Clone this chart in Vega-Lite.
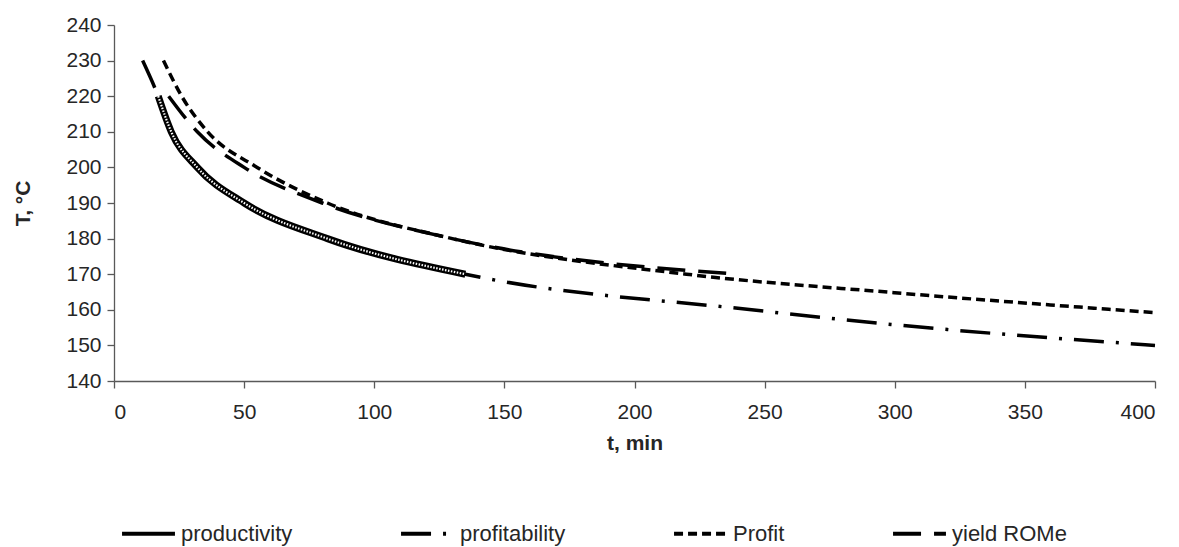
{
  "$schema": "https://vega.github.io/schema/vega-lite/v6.json",
  "width": 1041,
  "height": 356,
  "autosize": {"type": "none"},
  "padding": {"left": 114, "top": 25, "right": 24, "bottom": 166},
  "background": "white",
  "config": {
    "font": "Liberation Sans",
    "view": {"stroke": null},
    "axis": {"grid": false, "domainColor": "#595959", "tickColor": "#595959", "labelColor": "#262626", "titleColor": "#262626", "labelFontSize": 21, "titleFontSize": 21, "titleFontWeight": "bold", "tickSize": 7, "domainWidth": 1.3, "tickWidth": 1.3}
  },
  "data": {"values": [
    {"series": "productivity", "t": 17, "T": 220},
    {"series": "productivity", "t": 22, "T": 210},
    {"series": "productivity", "t": 32, "T": 200},
    {"series": "productivity", "t": 50, "T": 190},
    {"series": "productivity", "t": 82, "T": 180},
    {"series": "productivity", "t": 135, "T": 170},
    {"series": "profitability", "t": 11, "T": 230},
    {"series": "profitability", "t": 17, "T": 220},
    {"series": "profitability", "t": 22, "T": 210},
    {"series": "profitability", "t": 32, "T": 200},
    {"series": "profitability", "t": 50, "T": 190},
    {"series": "profitability", "t": 82, "T": 180},
    {"series": "profitability", "t": 135, "T": 170},
    {"series": "profitability", "t": 245, "T": 160},
    {"series": "profitability", "t": 300, "T": 155.8},
    {"series": "profitability", "t": 400, "T": 150},
    {"series": "Profit", "t": 19, "T": 230},
    {"series": "Profit", "t": 26, "T": 220},
    {"series": "Profit", "t": 36, "T": 210},
    {"series": "Profit", "t": 55, "T": 200},
    {"series": "Profit", "t": 82, "T": 190},
    {"series": "Profit", "t": 130, "T": 180},
    {"series": "Profit", "t": 220, "T": 170},
    {"series": "Profit", "t": 300, "T": 164.8},
    {"series": "Profit", "t": 400, "T": 159.2},
    {"series": "yield ROMe", "t": 21, "T": 220},
    {"series": "yield ROMe", "t": 32, "T": 210},
    {"series": "yield ROMe", "t": 50, "T": 200},
    {"series": "yield ROMe", "t": 80, "T": 190},
    {"series": "yield ROMe", "t": 130, "T": 180},
    {"series": "yield ROMe", "t": 240, "T": 170}
  ]},
  "encoding": {
    "x": {"field": "t", "type": "quantitative", "scale": {"domain": [0, 400], "nice": false}, "axis": {"values": [0, 50, 100, 150, 200, 250, 300, 350, 400], "title": "t, min", "labelPadding": 13, "titlePadding": 10}},
    "y": {"field": "T", "type": "quantitative", "scale": {"domain": [140, 240], "nice": false, "zero": false}, "axis": {"values": [140, 150, 160, 170, 180, 190, 200, 210, 220, 230, 240], "title": "T, °C", "labelPadding": 6, "titlePadding": 32}}
  },
  "layer": [
    {
      "transform": [{"filter": "datum.series !== 'productivity'"}],
      "mark": {"type": "line", "interpolate": "monotone", "color": "black", "strokeWidth": 3.5, "strokeCap": "butt"},
      "encoding": {
        "strokeDash": {"field": "series", "type": "nominal", "scale": {"domain": ["productivity", "profitability", "Profit", "yield ROMe"], "range": [[1, 0], [30, 12, 3, 12], [9, 5], [28, 13]]}, "legend": {"title": null, "orient": "none", "legendX": 6, "legendY": 480, "direction": "horizontal", "columns": 4, "columnPadding": 100, "symbolType": "stroke", "symbolSize": 2800, "symbolStrokeColor": "black", "symbolStrokeWidth": 4, "labelFontSize": 22, "labelColor": "#262626", "labelOffset": 4}}
      }
    },
    {
      "transform": [{"filter": "datum.series === 'productivity'"}],
      "mark": {"type": "line", "interpolate": "monotone", "color": "black", "strokeWidth": 7},
      "encoding": {}
    },
    {
      "transform": [{"filter": "datum.series === 'productivity'"}],
      "mark": {"type": "line", "interpolate": "monotone", "color": "white", "strokeWidth": 2.2, "strokeDash": [1.5, 1.5]},
      "encoding": {}
    }
  ]
}
